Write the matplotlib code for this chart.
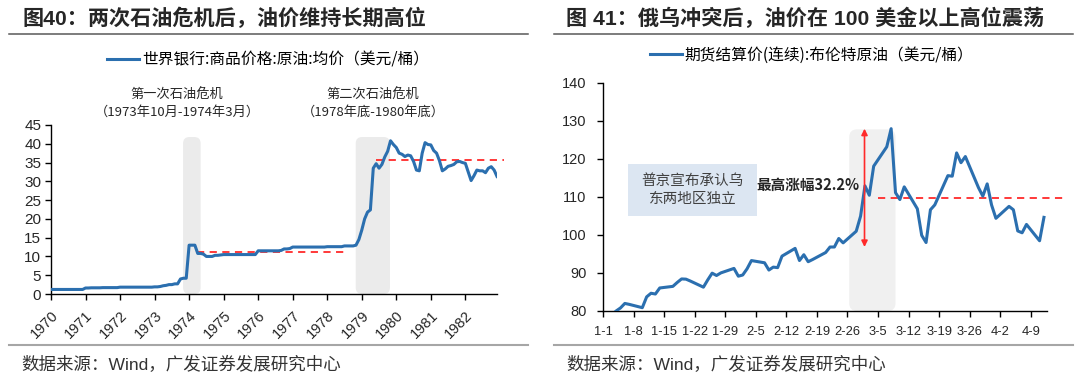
import numpy as np
import pandas as pd
import matplotlib
matplotlib.use("Agg")
import matplotlib.pyplot as plt
import matplotlib.dates as mdates
from matplotlib.lines import Line2D
from matplotlib.patches import FancyBboxPatch, Rectangle

plt.rcParams['font.family'] = ['Liberation Sans', 'Noto Sans CJK SC', 'DejaVu Sans']
plt.rcParams['axes.unicode_minus'] = False

# ---- left chart: World Bank crude oil average, monthly 1970-1982
oil_1970 = [1.21] * 12
oil_1971 = [1.6, 1.6, 1.65, 1.65, 1.65, 1.65, 1.7, 1.7, 1.7, 1.7, 1.7, 1.7]
oil_1972 = [1.82] * 12
oil_1973 = [1.9, 1.9, 2.0, 2.2, 2.3, 2.5, 2.5, 2.7, 2.7, 4.0, 4.2, 4.2]
oil_1974 = [13.0, 13.0, 13.0, 10.8, 10.8, 10.6, 10.0, 10.0, 10.0, 10.3, 10.3, 10.4]
oil_1975 = [10.5] * 12
oil_1976 = [11.5] * 8 + [11.6, 12.0, 12.0, 12.1]
oil_1977 = [12.5] * 12
oil_1978 = [12.6] * 6 + [12.8, 12.8, 12.8, 12.8, 13.0, 14.5]
oil_1979 = [17.0, 20.0, 21.8, 22.4, 33.5, 34.7, 33.5, 34.5, 36.5, 38.0, 40.8, 39.8]
oil_1980 = [39.0, 37.5, 37.2, 36.6, 37.0, 36.8, 35.3, 33.0, 32.8, 37.5, 40.3, 39.8]
oil_1981 = [39.7, 38.2, 37.5, 35.5, 32.8, 33.3, 34.0, 34.2, 34.5, 35.2, 35.3, 35.0]
oil_1982 = [34.8, 32.5, 30.2, 31.5, 33.0, 32.8, 32.8, 32.3, 33.5, 33.9, 33.0, 31.3]
oil_monthly = (oil_1970 + oil_1971 + oil_1972 + oil_1973 + oil_1974 + oil_1975 + oil_1976
               + oil_1977 + oil_1978 + oil_1979 + oil_1980 + oil_1981 + oil_1982)
years = list(range(1970, 1983))
crisis_spans = [(45.9, 52.0), (105.9, 117.8)]   # month index
crisis_avg = [(50.8, 102.0, 11.3), (113.0, 157.5, 35.8)]

# ---- right chart: Brent settlement 2022
brent_dates = ['2022-01-03', '2022-01-04', '2022-01-05', '2022-01-06', '2022-01-07',
               '2022-01-10', '2022-01-11', '2022-01-12', '2022-01-13', '2022-01-14',
               '2022-01-17', '2022-01-18', '2022-01-19', '2022-01-20', '2022-01-21',
               '2022-01-24', '2022-01-25', '2022-01-26', '2022-01-27', '2022-01-28',
               '2022-01-31', '2022-02-01', '2022-02-02', '2022-02-03', '2022-02-04',
               '2022-02-07', '2022-02-08', '2022-02-09', '2022-02-10', '2022-02-11',
               '2022-02-14', '2022-02-15', '2022-02-16', '2022-02-17', '2022-02-18',
               '2022-02-21', '2022-02-22', '2022-02-23', '2022-02-24', '2022-02-25',
               '2022-02-28', '2022-03-01', '2022-03-02', '2022-03-03', '2022-03-04',
               '2022-03-07', '2022-03-08', '2022-03-09', '2022-03-10', '2022-03-11',
               '2022-03-14', '2022-03-15', '2022-03-16', '2022-03-17', '2022-03-18',
               '2022-03-21', '2022-03-22', '2022-03-23', '2022-03-24', '2022-03-25',
               '2022-03-28', '2022-03-29', '2022-03-30', '2022-03-31', '2022-04-01',
               '2022-04-04', '2022-04-05', '2022-04-06', '2022-04-07', '2022-04-08',
               '2022-04-11', '2022-04-12']
brent = [78.98, 80.00, 80.80, 81.99, 81.75,
         80.87, 83.72, 84.67, 84.47, 86.06,
         86.48, 87.51, 88.44, 88.38, 87.89,
         86.27, 88.20, 89.96, 89.34, 90.03,
         91.21, 89.16, 89.47, 91.11, 93.27,
         92.69, 90.78, 91.55, 91.41, 94.44,
         96.48, 93.28, 94.81, 92.97, 93.54,
         95.39, 96.84, 96.84, 99.08, 97.93,
         100.99, 104.97, 112.93, 110.46, 118.11,
         123.21, 127.98, 111.14, 109.33, 112.67,
         106.90, 99.91, 98.02, 106.64, 107.93,
         115.62, 115.48, 121.60, 119.03, 120.65,
         112.48, 110.23, 113.45, 107.91, 104.39,
         107.53, 106.64, 101.07, 100.58, 102.78,
         98.48, 104.64]
week_ticks = pd.date_range('2022-01-01', '2022-04-09', freq='7D')
week_labels = [f"{d.month}-{d.day}" for d in week_ticks]
rise_low, rise_high = 96.84, 127.98
post_avg = 109.7

BLUE = '#2b6faf'
RED = '#ff2a2a'
TXT = '#262626'
CJK = ['Noto Sans CJK SC', 'DejaVu Sans']

fig = plt.figure(figsize=(10.8, 3.77), dpi=100)
W, H = 1080, 377

def fx(px):
    return px / W

def fy(py):
    return 1 - py / H

def style_axes(ax):
    for s in ['top', 'right']:
        ax.spines[s].set_visible(False)
    for s in ['left', 'bottom']:
        ax.spines[s].set_color('black')
        ax.spines[s].set_linewidth(1.0)
    ax.tick_params(direction='out', length=4, width=1, colors='black', labelcolor=TXT)

# ================= left =================
ax1 = fig.add_axes([fx(51), fy(294), fx(497 - 51), (294 - 125) / H])
style_axes(ax1)
months = np.arange(len(oil_monthly))
for x0, x1 in crisis_spans:
    ax1.add_patch(FancyBboxPatch((x0, 0), x1 - x0, 41.8,
                                 boxstyle="round,pad=0,rounding_size=2.2",
                                 mutation_aspect=0.77, fc='#ebebeb', ec='none', zorder=1))
for x0, x1, v in crisis_avg:
    ax1.plot([x0, x1], [v, v], color=RED, lw=1.3, ls=(0, (4, 3)), zorder=3, clip_on=False)
ax1.plot(months, oil_monthly, color=BLUE, lw=2.2, zorder=4, solid_joinstyle='round')
ax1.set_xlim(0, 155)
ax1.set_ylim(0, 45)
ax1.set_yticks(range(0, 46, 5))
ax1.set_xticks([(y - 1970) * 12 for y in years])
ax1.set_xticklabels([str(y) for y in years], rotation=45, ha='right',
                    rotation_mode='anchor', fontsize=10.5)
ax1.tick_params(axis='y', labelsize=11, pad=3)
ax1.tick_params(axis='x', pad=6)

ax1.legend([Line2D([], [], color=BLUE, lw=2.2)],
           ['世界银行:商品价格:原油:均价（美元/桶）'],
           loc='center', bbox_to_anchor=(fx(268), fy(60)), bbox_transform=fig.transFigure,
           frameon=False, handlelength=2.0, handletextpad=0.2,
           prop={'family': CJK, 'size': 11.3})
fig.text(fx(177), fy(95), '第一次石油危机', ha='center', va='center',
         fontsize=9.5, family=CJK, color=TXT)
fig.text(fx(177), fy(112), '（1973年10月-1974年3月）', ha='center', va='center',
         fontsize=9.5, family=CJK, color=TXT)
fig.text(fx(373), fy(95), '第二次石油危机', ha='center', va='center',
         fontsize=9.5, family=CJK, color=TXT)
fig.text(fx(373), fy(112), '（1978年底-1980年底）', ha='center', va='center',
         fontsize=9.5, family=CJK, color=TXT)

# ================= right =================
ax2 = fig.add_axes([fx(603), fy(311), fx(1047 - 603), (311 - 83) / H])
style_axes(ax2)
bd = pd.to_datetime(brent_dates)
d0 = pd.Timestamp('2022-01-01')

def dn(days):
    return mdates.date2num(d0 + pd.Timedelta(days=days))

x_shade0, x_shade1 = dn(56.4), dn(67.0)
ax2.add_patch(FancyBboxPatch((x_shade0, 80), x_shade1 - x_shade0, 47.8,
                             boxstyle="round,pad=0,rounding_size=1.8",
                             mutation_aspect=1.14, fc='#f0f0f0', ec='none', zorder=1))
ax2.add_patch(Rectangle((dn(5.8), 105.1), dn(35.3) - dn(5.8), 13.7,
                        fc='#dce6f2', ec='none', zorder=1))
ax2.text(dn(20.55), 111.95, '普京宣布承认乌\n东两地区独立', ha='center', va='center',
         fontsize=10.5, family=CJK, color='#404040', linespacing=1.35, zorder=2)
ax2.plot([dn(62.9), dn(105.5)], [post_avg, post_avg], color=RED, lw=1.3,
         ls=(0, (4, 3)), zorder=3, clip_on=False)
ax2.plot(mdates.date2num(bd), brent, color=BLUE, lw=2.2, zorder=4, solid_joinstyle='round')
ax2.annotate('', xy=(dn(59.9), rise_high), xytext=(dn(59.9), rise_low),
             arrowprops=dict(arrowstyle='<|-|>', color=RED, lw=1.2,
                             mutation_scale=9, shrinkA=0, shrinkB=0), zorder=5)
ax2.text(dn(58.7), 113.2, '最高涨幅32.2%', ha='right', va='center', fontsize=10.5,
         fontweight='bold', family=CJK, color=TXT, zorder=5)
ax2.set_xlim(dn(0), dn(101.7))
ax2.set_ylim(80, 140)
ax2.set_yticks(range(80, 141, 10))
ax2.set_xticks(mdates.date2num(week_ticks))
ax2.set_xticklabels(week_labels, fontsize=9.3)
ax2.tick_params(axis='y', labelsize=10.5, pad=8)
ax2.tick_params(axis='x', pad=7)

ax2.legend([Line2D([], [], color=BLUE, lw=2.2)],
           ['期货结算价(连续):布伦特原油（美元/桶）'],
           loc='center', bbox_to_anchor=(fx(812), fy(55)), bbox_transform=fig.transFigure,
           frameon=False, handlelength=2.0, handletextpad=0.2,
           prop={'family': CJK, 'size': 11.3})

# ================= titles, rules, source =================
fig.text(fx(22), fy(18), '图40：两次石油危机后，油价维持长期高位', ha='left', va='center',
         fontsize=15.2, fontweight='bold', color=TXT)
fig.text(fx(566), fy(18), '图 41：俄乌冲突后，油价在 100 美金以上高位震荡', ha='left',
         va='center', fontsize=15.2, fontweight='bold', color=TXT)
for x0, x1 in [(9, 528), (554, 1073)]:
    fig.add_artist(Line2D([fx(x0), fx(x1)], [fy(34), fy(34)], color='#595959', lw=1.1))
    fig.add_artist(Line2D([fx(x0), fx(x1)], [fy(345), fy(345)], color='#a6a6a6', lw=1.5))
fig.text(fx(21), fy(364), '数据来源：Wind，广发证券发展研究中心', ha='left', va='center',
         fontsize=12.6, color='#333333')
fig.text(fx(566), fy(364), '数据来源：Wind，广发证券发展研究中心', ha='left', va='center',
         fontsize=12.6, color='#333333')

fig.savefig('out.png', dpi=100)
